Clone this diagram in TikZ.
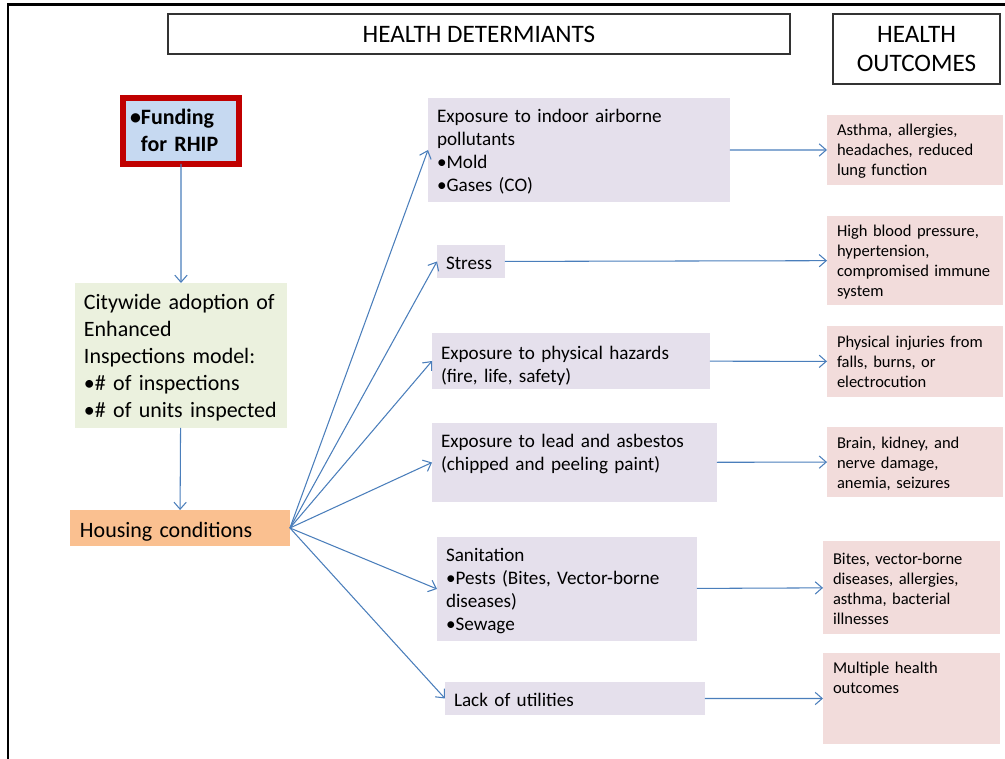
\documentclass[tikz,border=0pt]{standalone}
\usepackage{fontspec}
\setmainfont{Carlito}
\usetikzlibrary{arrows.meta}
\usepackage{xcolor}

\definecolor{detfill}{HTML}{E5E0EC}
\definecolor{outfill}{HTML}{F2DCDB}
\definecolor{cityfill}{HTML}{EBF1DE}
\definecolor{housefill}{HTML}{FAC090}
\definecolor{fundfill}{HTML}{C6D9F1}
\definecolor{fundline}{HTML}{C00000}
\definecolor{arrowblue}{HTML}{4A7EBB}

\tikzset{
  titlebox/.style={draw=black!80,line width=0.8pt,align=center,font=\fontsize{14.3}{17}\selectfont},
  det/.style={fill=detfill,anchor=north west,align=left,inner xsep=0.18cm,inner ysep=0pt,outer sep=0pt,font=\fontsize{10.9}{13}\selectfont},
  outc/.style={fill=outfill,anchor=north west,align=left,inner xsep=0.2cm,inner ysep=0pt,outer sep=0pt,font=\fontsize{9.4}{11.3}\selectfont},
  input/.style={anchor=north west,align=left,inner ysep=0pt,outer sep=0pt,font=\fontsize{12.5}{15.3}\selectfont}
}

\begin{document}
\begin{tikzpicture}[->,>={Straight Barb[length=4pt,width=7pt]},x=0.02cm,y=-0.02cm,line width=0.6pt]
  \useasboundingbox (0,0) rectangle (1005,759);
  \draw[-,line width=1.7pt] (8,759) -- (8,5) -- (1005,5);

  \node[titlebox,minimum width=12.44cm,minimum height=0.8cm] (T1) at (479,34) {HEALTH DETERMIANTS};
  \node[titlebox,minimum width=3.34cm,minimum height=1.4cm] (T2) at (916.5,49) {HEALTH\\OUTCOMES};

  \node[input,draw=fundline,line width=3.4pt,fill=fundfill,inner xsep=0.14cm,text width=2.04cm,text height=0.54cm,text depth=0.78cm,font=\fontsize{12.5}{15.3}\selectfont\bfseries]
    (F) at (123,98) {•Funding\\\hphantom{•}for RHIP};
  \node[input,fill=cityfill,inner xsep=0.18cm,text width=3.88cm,text height=0.54cm,text depth=2.36cm]
    (C) at (75,283) {Citywide adoption of\\Enhanced\\Inspections model:\\•\# of inspections\\•\# of units inspected};
  \node[input,fill=housefill,inner xsep=0.2cm,text width=4.0cm,text height=0.56cm,text depth=0.16cm]
    (H) at (70,510) {Housing conditions};

  \node[det,text width=5.68cm,text height=0.5cm,text depth=1.58cm] (D1) at (428,98) {Exposure to indoor airborne\\pollutants\\•Mold\\•Gases (CO)};
  \node[det,text width=1.0cm,text height=0.5cm,text depth=0.16cm] (D2) at (437,245) {Stress};
  \node[det,text width=5.2cm,text height=0.54cm,text depth=0.58cm] (D3) at (432,333) {Exposure to physical hazards\\(fire, life, safety)};
  \node[det,text width=5.34cm,text height=0.5cm,text depth=1.08cm] (D4) at (432,423) {Exposure to lead and asbestos\\(chipped and peeling paint)};
  \node[det,text width=4.84cm,text height=0.5cm,text depth=1.58cm] (D5) at (437,537) {Sanitation\\•Pests (Bites, Vector-borne\\diseases)\\•Sewage};
  \node[det,text width=4.84cm,text height=0.5cm,text depth=0.16cm] (D6) at (445,682) {Lack of utilities};

  \node[outc,text width=3.12cm,text height=0.42cm,text depth=0.98cm] (O1) at (827,115) {Asthma, allergies,\\headaches, reduced\\lung function};
  \node[outc,text width=3.12cm,text height=0.42cm,text depth=1.36cm] (O2) at (827,216) {High blood pressure,\\hypertension,\\compromised immune\\system};
  \node[outc,text width=3.12cm,text height=0.44cm,text depth=0.98cm] (O3) at (827,326) {Physical injuries from\\falls, burns, or\\electrocution};
  \node[outc,text width=3.12cm,text height=0.44cm,text depth=0.96cm] (O4) at (827,427) {Brain, kidney, and\\nerve damage,\\anemia, seizures};
  \node[outc,text width=3.14cm,text height=0.48cm,text depth=1.38cm] (O5) at (823,541) {Bites, vector-borne\\diseases, allergies,\\asthma, bacterial\\illnesses};
  \node[outc,text width=3.14cm,text height=0.42cm,text depth=1.4cm] (O6) at (823,653) {Multiple health\\outcomes};

  \begin{scope}[draw=arrowblue]
  \path (F) edge (C)
        (C) edge (H);
  \path (H.east) edge (D1.west)
                 edge (D2.west)
                 edge (D3.west)
                 edge (D4.west)
                 edge (D5.west)
                 edge (D6.west);
  \path (D1) edge (O1)
        (D2) edge (O2)
        (D3) edge (O3)
        (D4) edge (O4)
        (D5) edge (O5)
        (D6) edge (O6);
  \end{scope}
\end{tikzpicture}
\end{document}
